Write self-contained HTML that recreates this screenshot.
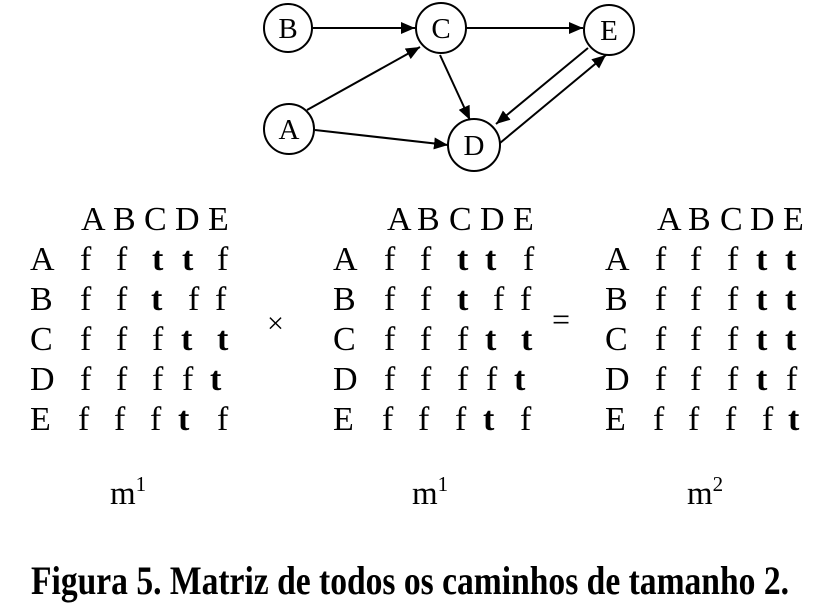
<!DOCTYPE html>
<html><head><style>body{margin:0;background:#fff} svg text{font-family:"Liberation Serif",serif}</style></head><body>
<svg width="823" height="604" xmlns="http://www.w3.org/2000/svg">
<defs><marker id="a" markerWidth="14" markerHeight="12" refX="14" refY="6" orient="auto" markerUnits="userSpaceOnUse"><path d="M0,0L14,6L0,12z" fill="#000"/></marker></defs>
<g stroke="#000" stroke-width="2" fill="#fff">
<circle cx="288" cy="28" r="24"/><circle cx="441" cy="28" r="25"/><circle cx="609" cy="30" r="25"/><circle cx="289" cy="129" r="25"/><circle cx="474" cy="145" r="26"/>
</g>
<g stroke="#000" stroke-width="2" marker-end="url(#a)">
<line x1="313" y1="28" x2="415" y2="28"/><line x1="466" y1="28" x2="583" y2="28"/>
<line x1="307" y1="110" x2="420" y2="47"/><line x1="315" y1="130" x2="448" y2="145"/>
<line x1="440" y1="55" x2="470" y2="120"/><line x1="588" y1="48" x2="496" y2="124"/>
<line x1="500" y1="143" x2="606" y2="55"/>
</g>
<g font-size="29" text-anchor="middle">
<text x="288" y="38">B</text><text x="441" y="38">C</text><text x="609" y="40">E</text><text x="289" y="139">A</text><text x="474" y="155">D</text>
</g>
<g font-size="34">
<text x="81" y="230">A</text><text x="113" y="230">B</text><text x="144" y="230">C</text><text x="175" y="230">D</text><text x="208" y="230">E</text>
<text x="387" y="230">A</text><text x="417" y="230">B</text><text x="449" y="230">C</text><text x="480" y="230">D</text><text x="513" y="230">E</text>
<text x="657" y="230">A</text><text x="688" y="230">B</text><text x="720" y="230">C</text><text x="750" y="230">D</text><text x="783" y="230">E</text>
<text x="30" y="270">A</text><text x="30" y="310">B</text><text x="30" y="350">C</text><text x="30" y="390">D</text><text x="30" y="430">E</text>
<text x="333" y="270">A</text><text x="333" y="310">B</text><text x="333" y="350">C</text><text x="333" y="390">D</text><text x="333" y="430">E</text>
<text x="605" y="270">A</text><text x="605" y="310">B</text><text x="605" y="350">C</text><text x="605" y="390">D</text><text x="605" y="430">E</text>
</g>
<g font-size="34">
<text y="270"><tspan x="80">f</tspan><tspan x="116">f</tspan><tspan x="152" font-weight="bold">t</tspan><tspan x="182" font-weight="bold">t</tspan><tspan x="217">f</tspan></text>
<text y="310"><tspan x="80">f</tspan><tspan x="116">f</tspan><tspan x="151" font-weight="bold">t</tspan><tspan x="188">f</tspan><tspan x="215">f</tspan></text>
<text y="350"><tspan x="80">f</tspan><tspan x="116">f</tspan><tspan x="152">f</tspan><tspan x="181" font-weight="bold">t</tspan><tspan x="217" font-weight="bold">t</tspan></text>
<text y="390"><tspan x="80">f</tspan><tspan x="116">f</tspan><tspan x="152">f</tspan><tspan x="182">f</tspan><tspan x="210" font-weight="bold">t</tspan></text>
<text y="430"><tspan x="78">f</tspan><tspan x="114">f</tspan><tspan x="150">f</tspan><tspan x="178" font-weight="bold">t</tspan><tspan x="217">f</tspan></text>
</g>
<g font-size="34">
<text y="270"><tspan x="384">f</tspan><tspan x="420">f</tspan><tspan x="457" font-weight="bold">t</tspan><tspan x="485" font-weight="bold">t</tspan><tspan x="523">f</tspan></text>
<text y="310"><tspan x="384">f</tspan><tspan x="420">f</tspan><tspan x="457" font-weight="bold">t</tspan><tspan x="493">f</tspan><tspan x="520">f</tspan></text>
<text y="350"><tspan x="384">f</tspan><tspan x="420">f</tspan><tspan x="457">f</tspan><tspan x="485" font-weight="bold">t</tspan><tspan x="521" font-weight="bold">t</tspan></text>
<text y="390"><tspan x="384">f</tspan><tspan x="420">f</tspan><tspan x="457">f</tspan><tspan x="486">f</tspan><tspan x="514" font-weight="bold">t</tspan></text>
<text y="430"><tspan x="382">f</tspan><tspan x="418">f</tspan><tspan x="455">f</tspan><tspan x="483" font-weight="bold">t</tspan><tspan x="520">f</tspan></text>
</g>
<g font-size="34">
<text y="270"><tspan x="655">f</tspan><tspan x="690">f</tspan><tspan x="727">f</tspan><tspan x="756" font-weight="bold">t</tspan><tspan x="785" font-weight="bold">t</tspan></text>
<text y="310"><tspan x="655">f</tspan><tspan x="690">f</tspan><tspan x="727">f</tspan><tspan x="756" font-weight="bold">t</tspan><tspan x="785" font-weight="bold">t</tspan></text>
<text y="350"><tspan x="655">f</tspan><tspan x="690">f</tspan><tspan x="727">f</tspan><tspan x="756" font-weight="bold">t</tspan><tspan x="785" font-weight="bold">t</tspan></text>
<text y="390"><tspan x="655">f</tspan><tspan x="690">f</tspan><tspan x="727">f</tspan><tspan x="756" font-weight="bold">t</tspan><tspan x="786">f</tspan></text>
<text y="430"><tspan x="653">f</tspan><tspan x="688">f</tspan><tspan x="725">f</tspan><tspan x="762">f</tspan><tspan x="788" font-weight="bold">t</tspan></text>
</g>
<text x="267" y="333" font-size="30">×</text>
<text x="552" y="330" font-size="32">=</text>
<g font-size="33">
<text x="110" y="504">m<tspan font-size="21" dy="-13">1</tspan></text>
<text x="412" y="504">m<tspan font-size="21" dy="-13">1</tspan></text>
<text x="687" y="504">m<tspan font-size="21" dy="-13">2</tspan></text>
</g>
<text x="31" y="594" font-size="40" font-weight="bold" textLength="758" lengthAdjust="spacingAndGlyphs">Figura 5. Matriz de todos os caminhos de tamanho 2.</text>
</svg>
</body></html>
